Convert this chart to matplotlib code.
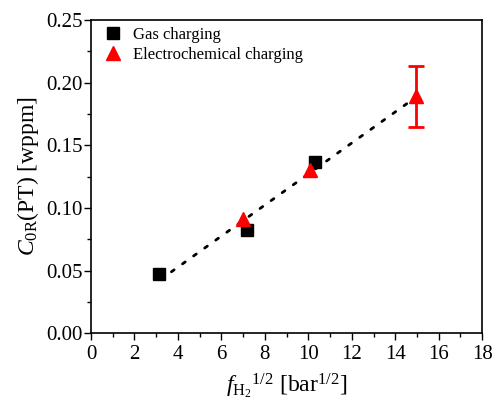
import matplotlib
matplotlib.use('Agg')
import matplotlib.pyplot as plt
from matplotlib.ticker import MultipleLocator

plt.rcParams['font.family'] = 'Liberation Serif'
plt.rcParams['mathtext.fontset'] = 'custom'
plt.rcParams['mathtext.rm'] = 'Liberation Serif'
plt.rcParams['mathtext.it'] = 'Liberation Serif:italic'

# data
gas_x = [3.15, 7.2, 10.3]
gas_y = [0.047, 0.082, 0.137]
ec_x = [7.0, 10.1, 14.95]
ec_y = [0.091, 0.130, 0.189]
ec_err = [0.0, 0.0, 0.0245]
fit_x = [3.7, 14.6]
fit_y = [0.049, 0.184]

fig = plt.figure(figsize=(4.92, 3.99), dpi=100)
ax = fig.add_axes([0.185, 0.165, 0.795, 0.785])

ax.plot(fit_x, fit_y, color='black', linestyle=(0, (1.2, 3.7)), linewidth=2, dash_capstyle='round')
ax.plot(gas_x, gas_y, 's', color='black', markersize=8, label='Gas charging', zorder=3)
# error bar only where one was measured
err_idx = [i for i, e in enumerate(ec_err) if e > 0]
ax.errorbar([ec_x[i] for i in err_idx], [ec_y[i] for i in err_idx],
            yerr=[ec_err[i] for i in err_idx], fmt='none', ecolor='red',
            elinewidth=2, capsize=6, capthick=2, zorder=4)
ax.plot(ec_x, ec_y, '^', color='red', markersize=9.5, label='Electrochemical charging', zorder=5)

ax.set_xlim(0, 18)
ax.set_ylim(0, 0.25)
ax.xaxis.set_major_locator(MultipleLocator(2))
ax.xaxis.set_minor_locator(MultipleLocator(1))
ax.yaxis.set_major_locator(MultipleLocator(0.05))
ax.yaxis.set_minor_locator(MultipleLocator(0.025))
ax.yaxis.set_major_formatter(plt.FormatStrFormatter('%.2f'))
ax.tick_params(which='both', direction='out', top=False, right=False, labelsize=15)
ax.tick_params(axis='y', pad=1)
ax.tick_params(which='major', length=5, width=1)
ax.tick_params(which='minor', length=3, width=1)
for s in ax.spines.values():
    s.set_linewidth(1.2)

ax.set_xlabel(r'$f_{\mathrm{H_2}}$$^{1/2}$ [bar$^{1/2}$]', fontsize=17, labelpad=5.5)
ax.set_ylabel(r'$C_{\mathrm{0R}}$(PT) [wppm]', fontsize=17, labelpad=4)

ax.legend(loc='upper left', bbox_to_anchor=(0.008, 1.0), frameon=False, fontsize=12,
          handletextpad=0.45, borderaxespad=0.0, labelspacing=0.25, handlelength=1.5)

fig.savefig('out.png', dpi=100)
